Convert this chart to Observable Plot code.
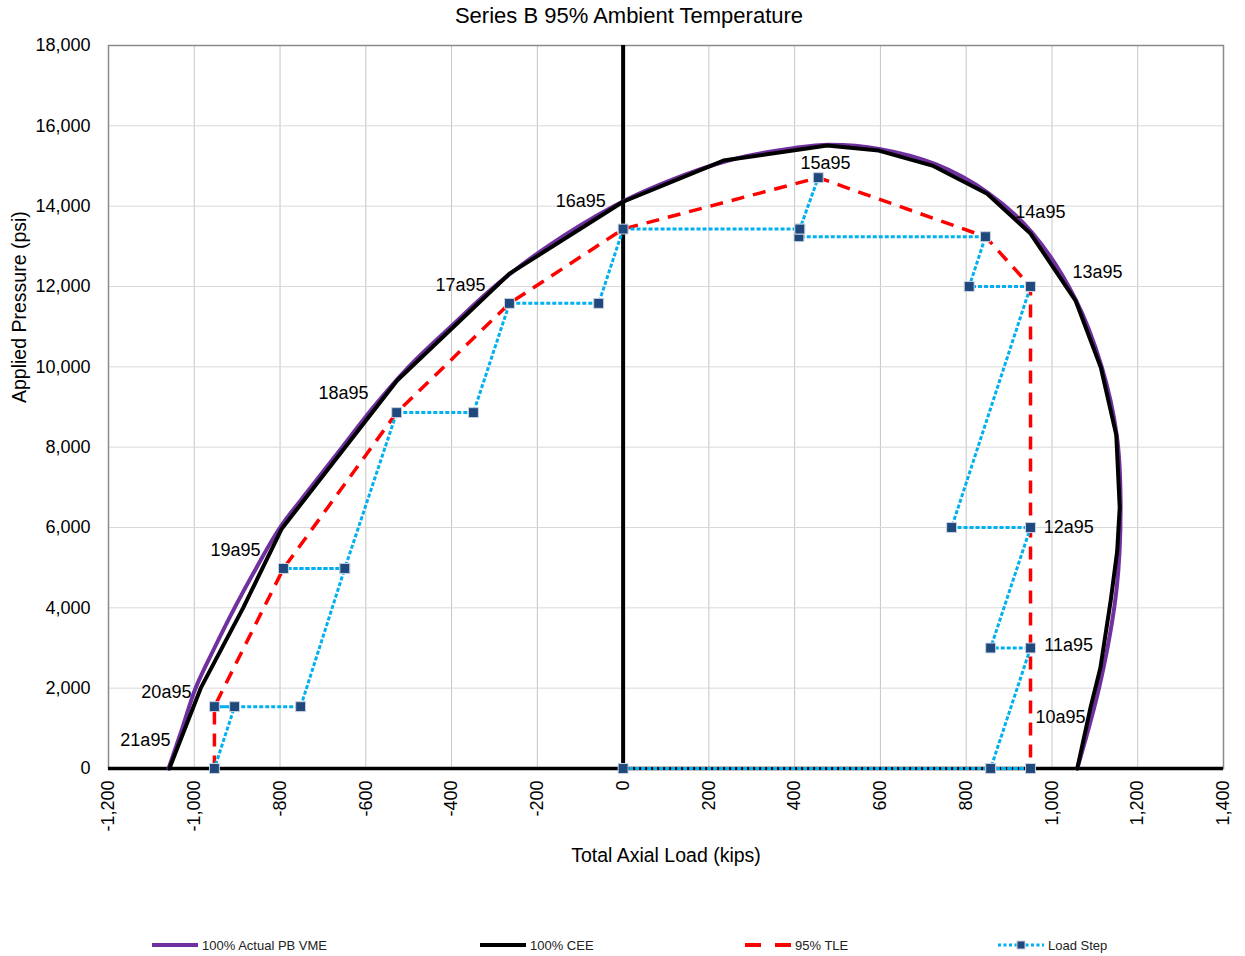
<!DOCTYPE html>
<html>
<head>
<meta charset="utf-8">
<script src="https://cdn.jsdelivr.net/npm/d3@7"></script>
<script src="https://cdn.jsdelivr.net/npm/@observablehq/plot@0.6"></script>
<style>
  body { margin: 0; background: #fff; font-family: "Liberation Sans", Arial, sans-serif; }
  #wrap { position: relative; width: 1245px; height: 956px; overflow: hidden; background: #fff; }
  #title { position: absolute; left: 0; top: 0; width: 1258px; height: 32px; line-height: 32px;
           text-align: center; font-size: 22px; color: #000; }
  #chart { position: absolute; left: 0; top: 34px; }
  .leg { position: absolute; top: 937px; height: 16px; display: flex; align-items: center;
         font-size: 13px; color: #222; white-space: nowrap; }
  .leg svg { margin-right: 4px; }
</style>
</head>
<body>
<div id="wrap">
  <div id="title">Series B 95% Ambient Temperature</div>
  <div id="chart"></div>
  <div id="legend"></div>
</div>
<script>
// ---- tick values ----
const xTicks = [-1200, -1000, -800, -600, -400, -200, 0, 200, 400, 600, 800, 1000, 1200, 1400];
const yTicks = [0, 2000, 4000, 6000, 8000, 10000, 12000, 14000, 16000, 18000];

// ---- 100% Actual PB VME (purple) ----
const vmeX = [-1060, -1028, -997, -953, -906, -855, -800, -728, -655, -582, -500, -402, -300, -176, -22, 100, 250, 400, 480, 600, 730, 850, 954, 1055, 1116, 1151, 1160, 1151, 1114, 1059];
const vmeY = [0, 1000, 2000, 3000, 4000, 5000, 6000, 7000, 8000, 9000, 10000, 11000, 12000, 13000, 14000, 14600, 15150, 15450, 15530, 15420, 15040, 14340, 13340, 11680, 10000, 8300, 6600, 4500, 2200, 0];

// ---- 100% CEE (black) ----
const ceeX = [-1058, -985, -886, -796, -527, -265, 0, 234, 476, 596, 721, 849, 950, 1055, 1114, 1150, 1158, 1152, 1137, 1113, 1090, 1059];
const ceeY = [0, 2000, 4000, 5970, 9660, 12320, 14110, 15135, 15509, 15384, 15011, 14307, 13318, 11650, 9985, 8300, 6500, 5400, 4180, 2510, 1520, 0];

// ---- 95% TLE (red dashed) ----
const tleX = [-953, -953, -792, -528, -265, 0, 455, 845, 950, 950];
const tleY = [0, 1540, 4980, 8860, 11580, 13430, 14710, 13240, 12000, 0];

// ---- Load Step (blue dotted with markers), in path order ----
const stepX = [0, 857, 950, 857, 950, 857, 950, 766, 950, 807, 845, 410, 412, 455, 412, 0, -57, -265, -349, -528, -649, -792, -649, -752, -953, -906, -953];
const stepY = [0, 0, 0, 0, 3000, 3000, 6000, 6000, 12000, 12000, 13240, 13240, 13430, 14710, 13430, 13430, 11580, 11580, 8860, 8860, 4980, 4980, 4980, 1540, 1540, 1540, 0];

// ---- point labels (anchored in data units) ----
const labelText = ["21a95", "20a95", "19a95", "18a95", "17a95", "16a95", "15a95", "14a95", "13a95", "12a95", "11a95", "10a95"];
const labelX = [-1114, -1065, -904, -652, -379, -99, 472, 973, 1106, 1039, 1039, 1020];
const labelY = [697, 1892, 5427, 9335, 12024, 14115, 15061, 13841, 12348, 6000, 3062, 1270];

const zipXY = (xs, ys) => xs.map((x, i) => ({x, y: ys[i]}));
const vme = zipXY(vmeX, vmeY);
const cee = zipXY(ceeX, ceeY);
const tle = zipXY(tleX, tleY);
const step = zipXY(stepX, stepY);
const labels = labelText.map((t, i) => ({t, x: labelX[i], y: labelY[i]}));

const fmt = d => d.toLocaleString("en-US");

const chart = Plot.plot({
  width: 1245,
  height: 846,
  marginLeft: 108,
  marginRight: 22,
  marginTop: 11,
  marginBottom: 112,
  style: { fontFamily: "'Liberation Sans', Arial, sans-serif", fontSize: "18px", background: "#fff", color: "#000" },
  x: { domain: [-1200, 1400], axis: null },
  y: { domain: [0, 18000], axis: null },
  marks: [
    Plot.gridX(xTicks, { stroke: "#c6c6c6", strokeOpacity: 1, strokeWidth: 1 }),
    Plot.gridY(yTicks, { stroke: "#d9d9d9", strokeOpacity: 1, strokeWidth: 1 }),
    Plot.frame({ stroke: "#8a8a8a", strokeWidth: 1.5 }),
    Plot.ruleX([0], { stroke: "#000", strokeWidth: 4 }),
    Plot.ruleY([0], { stroke: "#000", strokeWidth: 3.5 }),
    Plot.line(vme, { x: "x", y: "y", stroke: "#7030A0", strokeWidth: 4, curve: "catmull-rom" }),
    Plot.line(cee, { x: "x", y: "y", stroke: "#000", strokeWidth: 4 }),
    Plot.line(tle, { x: "x", y: "y", stroke: "#FF0000", strokeWidth: 3.5, strokeDasharray: "13,9", strokeLinecap: "butt" }),
    Plot.line(step, { x: "x", y: "y", stroke: "#00B0F0", strokeWidth: 3, strokeDasharray: "4,2", strokeLinecap: "butt" }),
    Plot.dot(step, { x: "x", y: "y", symbol: "square", r: 5.6, fill: "#1F497D", stroke: "#c9d3e0", strokeWidth: 1 }),
    Plot.text(labels, { x: "x", y: "y", text: "t", fontSize: 18, fill: "#000" }),
    Plot.axisY(yTicks, { tickSize: 0, tickPadding: 18, tickFormat: fmt, fontSize: 18, label: null }),
    Plot.axisX(xTicks, { tickSize: 0, tickPadding: 12, tickRotate: -90, tickFormat: fmt, fontSize: 18, label: null }),
    Plot.text(["Applied Pressure (psi)"], { frameAnchor: "left", dx: -89, dy: -4, rotate: -90, fontSize: 19.5, fill: "#000" }),
    Plot.text(["Total Axial Load (kips)"], { frameAnchor: "bottom", dy: 93, fontSize: 19.5, fill: "#000" })
  ]
});
document.getElementById("chart").appendChild(chart);

// ---- legend ----
const legendItems = [
  { name: "100% Actual PB VME", left: 152, kind: "vme" },
  { name: "100% CEE", left: 480, kind: "cee" },
  { name: "95% TLE", left: 745, kind: "tle" },
  { name: "Load Step", left: 998, kind: "step" }
];
const swatch = kind => {
  if (kind === "vme") return '<svg width="46" height="10"><line x1="0" y1="5" x2="46" y2="5" stroke="#7030A0" stroke-width="4"/></svg>';
  if (kind === "cee") return '<svg width="46" height="10"><line x1="0" y1="5" x2="46" y2="5" stroke="#000" stroke-width="4"/></svg>';
  if (kind === "tle") return '<svg width="46" height="10"><line x1="0" y1="5" x2="46" y2="5" stroke="#FF0000" stroke-width="4" stroke-dasharray="16,14"/></svg>';
  return '<svg width="46" height="10"><line x1="0" y1="5" x2="46" y2="5" stroke="#00B0F0" stroke-width="3" stroke-dasharray="3,2.5"/><rect x="19" y="1" width="8" height="8" fill="#1F497D" stroke="#c9d3e0" stroke-width="1"/></svg>';
};
const leg = document.getElementById("legend");
legendItems.forEach(it => {
  const d = document.createElement("div");
  d.className = "leg";
  d.style.left = it.left + "px";
  d.innerHTML = swatch(it.kind) + "<span>" + it.name + "</span>";
  leg.appendChild(d);
});
</script>
</body>
</html>
